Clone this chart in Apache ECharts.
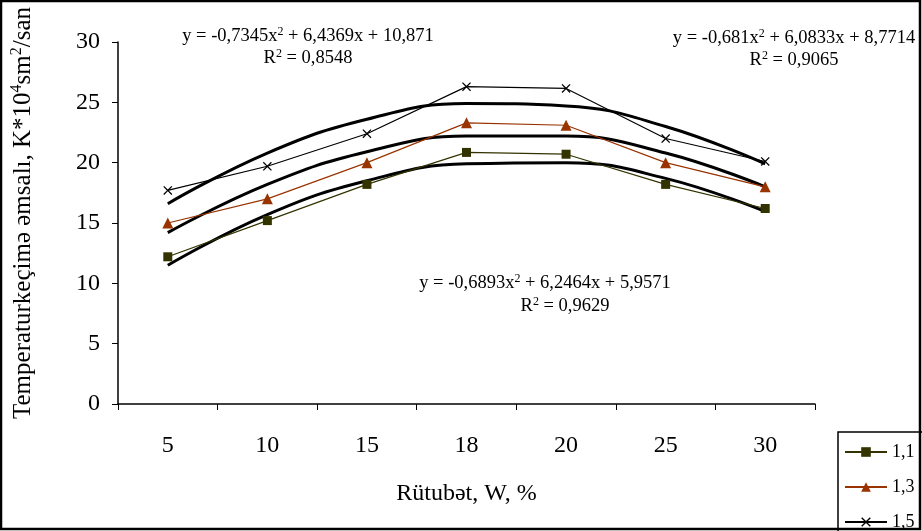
<!DOCTYPE html>
<html><head><meta charset="utf-8">
<script src="https://cdn.jsdelivr.net/npm/echarts@6/dist/echarts.min.js"></script>
<style>html,body{margin:0;padding:0;background:#fff}#c{width:922px;height:531px}</style>
</head><body><div id="c"></div>
<script>
const categories = ['5','10','15','18','20','25','30'];
const s11 = [12.2, 15.2, 18.2, 20.85, 20.7, 18.2, 16.2];
const s13 = [15.0, 17.0, 20.0, 23.3, 23.1, 20.0, 18.0];
const s15 = [17.7, 19.7, 22.4, 26.3, 26.15, 22.0, 20.1];
const t11 = [11.5, 15.7, 18.5, 19.9, 20.0, 18.7, 15.95];
const t13 = [14.2, 18.2, 20.9, 22.2, 22.2, 20.8, 18.0];
const t15 = [16.6, 20.8, 23.6, 24.9, 24.7, 23.0, 19.9];
const seriesNames = ['1,1', '1,3', '1,5'];
const yTicks = {min: 0, max: 30, interval: 5};

const F = '"Liberation Serif", "Times New Roman", serif';
const crossPath = 'path://M0,1 L1,0 L5,4 L9,0 L10,1 L6,5 L10,9 L9,10 L5,6 L1,10 L0,9 L4,5 Z';
const chart = echarts.init(document.getElementById('c'));
function trend(d){return {type:'line', data:d, smooth:0.45, symbol:'none', silent:true, z:1,
  lineStyle:{color:'#000', width:3}};}
const eqRich = {
  n:{fontFamily:F, fontSize:18.5, color:'#000', verticalAlign:'bottom', lineHeight:20},
  s:{fontFamily:F, fontSize:12, color:'#000', verticalAlign:'top', lineHeight:20, padding:[0,0,8,0]}
};
function eq(x, y, text){
  return {type:'text', x:x, y:y, style:{text:text, rich:eqRich, align:'center', verticalAlign:'middle'}};
}
chart.setOption({
  animation:false,
  backgroundColor:'#fff',
  grid:{left:118, top:42, right:107, bottom:127},
  legend:{
    data:seriesNames, orient:'vertical', left:838, top:432, height:130, width:120,
    padding:[11, 40, 10, 6], itemGap:17, itemWidth:42, itemHeight:12,
    borderColor:'#000', borderWidth:1.5,
    textStyle:{fontFamily:F, fontSize:18, color:'#000'}
  },
  xAxis:{
    type:'category', data:categories, boundaryGap:true,
    name:'Rütubət, W, %', nameLocation:'middle', nameGap:78,
    nameTextStyle:{fontFamily:F, fontSize:24, color:'#000'},
    axisLine:{lineStyle:{color:'#000', width:1.5}},
    axisTick:{show:true, length:6, interval:0, lineStyle:{color:'#000'}},
    axisLabel:{fontFamily:F, fontSize:24, color:'#000', margin:30, interval:0},
    splitLine:{show:false}
  },
  yAxis:{
    type:'value', min:yTicks.min, max:yTicks.max, interval:yTicks.interval,
    axisLine:{show:true, lineStyle:{color:'#000', width:1.5}},
    axisTick:{show:true, length:6, lineStyle:{color:'#000'}},
    axisLabel:{fontFamily:F, fontSize:24, color:'#000', margin:18},
    splitLine:{show:false}
  },
  graphic:[
    {type:'rect', shape:{x:1, y:1, width:919, height:528}, style:{fill:'none', stroke:'#000', lineWidth:2.5}, z:100},
    {type:'text', x:22, y:213, rotation:Math.PI/2,
      style:{text:'{n|Temperaturkeçimə əmsalı, K*10}{s|4}{n|sm}{s|2}{n|/san}', align:'center', verticalAlign:'middle',
        rich:{n:{fontFamily:F, fontSize:25, color:'#000', verticalAlign:'bottom', lineHeight:27},
              s:{fontFamily:F, fontSize:16, color:'#000', verticalAlign:'top', lineHeight:27, padding:[0,0,10,0]}}}},
    eq(308, 36, '{n|y = -0,7345x}{s|2}{n| + 6,4369x + 10,871}'),
    eq(308, 58, '{n|R}{s|2}{n| = 0,8548}'),
    eq(794, 38, '{n|y = -0,681x}{s|2}{n| + 6,0833x + 8,7714}'),
    eq(794, 60, '{n|R}{s|2}{n| = 0,9065}'),
    eq(545, 283, '{n|y = -0,6893x}{s|2}{n| + 6,2464x + 5,9571}'),
    eq(565, 306, '{n|R}{s|2}{n| = 0,9629}')
  ],
  series:[
    trend(t11), trend(t13), trend(t15),
    {name:seriesNames[0], type:'line', data:s11, symbol:'rect', symbolSize:9, z:3,
      itemStyle:{color:'#333300'}, lineStyle:{color:'#333300', width:1.2}},
    {name:seriesNames[1], type:'line', data:s13, symbol:'triangle', symbolSize:11, z:3,
      itemStyle:{color:'#993300'}, lineStyle:{color:'#993300', width:1.2}},
    {name:seriesNames[2], type:'line', data:s15, symbol:crossPath, symbolSize:9, z:3,
      itemStyle:{color:'#000'}, lineStyle:{color:'#000', width:1.2}}
  ]
});
</script></body></html>
